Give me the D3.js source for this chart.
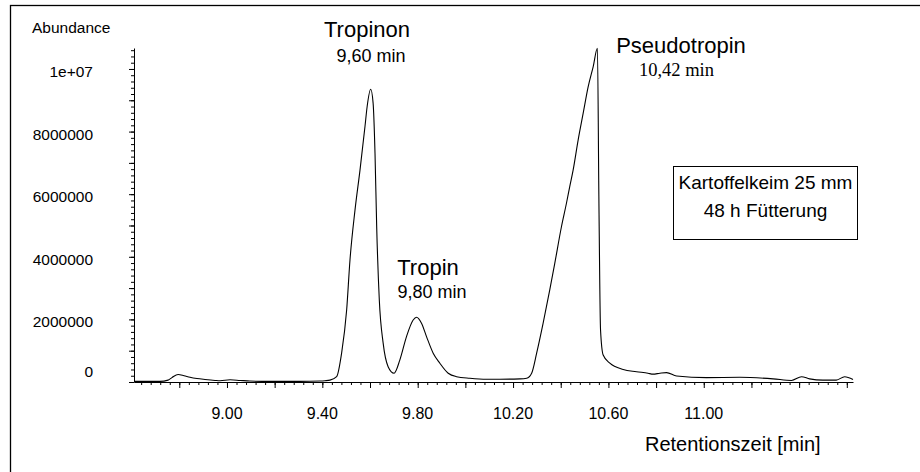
<!DOCTYPE html>
<html><head><meta charset="utf-8">
<script src="https://cdn.jsdelivr.net/npm/d3@7"></script>
<style>
html,body{margin:0;padding:0;background:#fff;}
text{font-family:"Liberation Sans",Arial,sans-serif;fill:#000;}
</style></head>
<body>
<svg id="c" width="920" height="472"></svg>
<script>
// ---- data ----
const retentionTime = [8.610,8.719,8.753,8.769,8.795,8.820,8.845,8.874,8.908,8.950,8.971,9.013,9.055,9.096,9.180,9.306,9.390,9.411,9.432,
 9.460,9.481,9.502,9.516,9.537,9.558,9.579,9.588,9.603,9.613,9.621,9.628,9.639,9.655,9.676,9.701,9.725,9.753,9.781,9.795,9.816,9.837,9.865,9.893,9.928,9.963,10.019,10.089,10.145,10.229,10.257,
 10.278,10.299,10.326,10.354,10.375,10.403,10.424,10.438,10.452,10.473,10.494,10.515,10.536,10.554,10.560,10.567,10.578,10.606,10.662,10.718,10.766,10.787,10.816,10.844,10.886,11.011,11.151,11.291,11.368,11.410,11.444,11.500,11.556,11.591,11.626];
const abundanceMio = [0.02,0.02,0.06,0.14,0.24,0.20,0.15,0.11,0.08,0.05,0.04,0.07,0.05,0.03,0.02,0.02,0.03,0.04,0.06,
 0.17,0.93,2.30,3.90,5.49,6.77,8.17,8.80,9.35,8.91,7.30,4.96,2.62,1.25,0.49,0.28,0.70,1.45,1.98,2.07,1.88,1.45,0.92,0.60,0.28,0.17,0.12,0.09,0.09,0.10,0.12,
 0.28,0.92,1.87,2.94,3.79,4.96,5.71,6.25,6.77,7.73,8.58,9.43,10.07,10.66,5.92,1.66,0.86,0.60,0.40,0.33,0.28,0.25,0.28,0.30,0.19,0.14,0.15,0.10,0.05,0.17,0.10,0.06,0.06,0.17,0.08];
const xTickValues = [9.00, 9.40, 9.80, 10.20, 10.60, 11.00];
const xTickLabels = ["9.00","9.40","9.80","10.20","10.60","11.00"];
const yTickValues = [0, 2000000, 4000000, 6000000, 8000000, 10000000];
const yTickLabels = ["0","2000000","4000000","6000000","8000000","1e+07"];
const peakNames = ["Tropinon","Tropin","Pseudotropin"];
const peakTimes = ["9,60 min","9,80 min","10,42 min"];
const peakApexTime = [9.603, 9.795, 10.554];
const boxLines = ["Kartoffelkeim 25 mm","48 h Fütterung"];

// ---- drawing ----
const svg = d3.select("#c");
svg.append("rect").attr("x",10.5).attr("y",5.5).attr("width",1000).attr("height",1000)
  .attr("fill","none").attr("stroke","#000").attr("stroke-width",1.3);

const x = d3.scaleLinear().domain([8.61, 11.626]).range([134, 853]);
const y = d3.scaleLinear().domain([0, 10670000]).range([382, 48]);

// x axis ticks
const xMinor = d3.range(216, 291).map(i => +(i*0.04).toFixed(2)).filter(v => v >= 8.61 && v <= 11.626);
const xMajor = d3.range(44, 59).map(i => +(i*0.2).toFixed(1)).filter(v => v >= 8.61 && v <= 11.626);
const gx = svg.append("g").attr("transform","translate(0,382)");
gx.call(d3.axisBottom(x).tickValues(xMinor).tickSize(3).tickSizeOuter(0).tickFormat(""));
gx.append("g").call(d3.axisBottom(x).tickValues(xMajor).tickSize(6).tickSizeOuter(0).tickFormat(""))
  .select(".domain").remove();
gx.selectAll("path,line").attr("stroke","#000").attr("stroke-width",1);
gx.selectAll(".xl").data(xTickValues).enter().append("text")
  .attr("x", d => x(d)).attr("y", 37).attr("text-anchor","middle")
  .style("font-size","16px").text((d,i) => xTickLabels[i]);

// y axis ticks
const yMinor = d3.range(0, 54).map(i => i*200000).filter(v => v <= 10670000);
const yMajor = d3.range(0, 11).map(i => i*1000000);
const gy = svg.append("g").attr("transform","translate(134,0)");
gy.call(d3.axisLeft(y).tickValues(yMinor).tickSize(3).tickSizeOuter(0).tickFormat(""));
gy.append("g").call(d3.axisLeft(y).tickValues(yMajor).tickSize(5).tickSizeOuter(0).tickFormat(""))
  .select(".domain").remove();
gy.selectAll("path,line").attr("stroke","#000").attr("stroke-width",1);
svg.selectAll(".yl").data(yTickValues).enter().append("text")
  .attr("x", 93).attr("y", d => d === 0 ? y(d) - 5 : y(d) + 8)
  .attr("text-anchor","end").style("font-size","15.5px").text((d,i) => yTickLabels[i]);

svg.append("text").attr("x",32).attr("y",33).style("font-size","15.5px").text("Abundance");
svg.append("text").attr("x",645).attr("y",451).style("font-size","20px").text("Retentionszeit [min]");

// trace
const pts = retentionTime.map((t,i) => [t, abundanceMio[i]*1e6]);
svg.append("path").datum(pts)
  .attr("d", d3.line().x(d => x(d[0])).y(d => y(d[1])).curve(d3.curveMonotoneX))
  .attr("fill","none").attr("stroke","#000").attr("stroke-width",1.1);

// peak labels
const nameX = [367, 428, 681];
const nameY = [37.3, 275, 52.7];
const timeY = [61.7, 298.3, 76];
peakNames.forEach((n,i) => {
  svg.append("text").attr("x", nameX[i]).attr("y", nameY[i]).attr("text-anchor","middle")
    .style("font-size","22px").text(n);
  const tt = svg.append("text").attr("x", i===2 ? 676.5 : nameX[i] + 4).attr("y", timeY[i])
    .attr("text-anchor","middle").text(peakTimes[i]);
  if (i===2) tt.style("font-family","'Liberation Serif','Times New Roman',serif").style("font-size","18.5px");
  else tt.style("font-size","18px");
});

// annotation box
svg.append("rect").attr("x",673.5).attr("y",166.5).attr("width",184).attr("height",73)
  .attr("fill","#fff").attr("stroke","#000").attr("stroke-width",1);
boxLines.forEach((l,i) => {
  svg.append("text").attr("x",765.5).attr("y", i===0 ? 189.3 : 216.7).attr("text-anchor","middle")
    .style("font-size","19px").text(l);
});
</script>
</body></html>
